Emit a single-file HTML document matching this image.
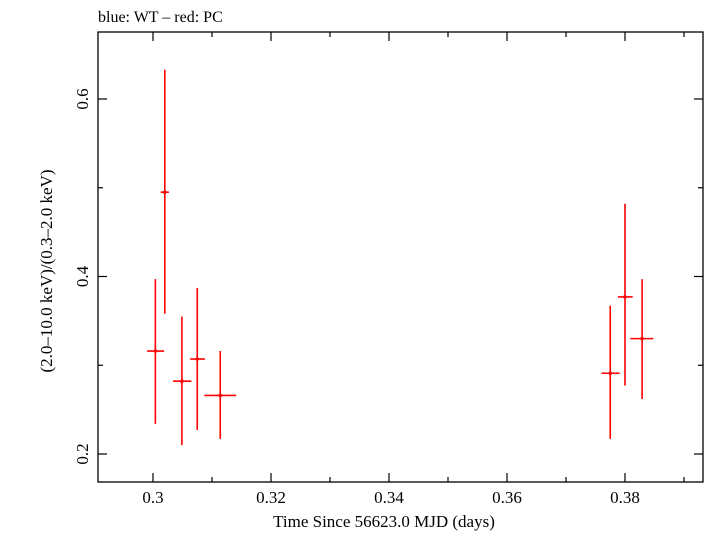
<!DOCTYPE html>
<html><head><meta charset="utf-8"><style>body{margin:0;background:#fff}</style></head>
<body>
<svg width="705" height="532" xmlns="http://www.w3.org/2000/svg" font-family="Liberation Serif, serif">
<text x="98" y="22" font-size="16">blue: WT – red: PC</text>
<rect x="98" y="32" width="605" height="450" fill="none" stroke="#000" stroke-width="1.3"/>
<g id="axes"></g>
<g id="marks"></g>
<text x="384" y="527" font-size="17" text-anchor="middle">Time Since 56623.0 MJD (days)</text>
<text transform="translate(52,271) rotate(-90)" font-size="17" text-anchor="middle">(2.0–10.0 keV)/(0.3–2.0 keV)</text>
<script>
const times=[0.3004,0.3020,0.3049,0.3075,0.3114,0.3775,0.3800,0.3829];
const timeErrLo=[0.0014,0.0007,0.0015,0.0012,0.0027,0.0015,0.0012,0.0020];
const timeErrHi=[0.0015,0.0007,0.0016,0.0013,0.0027,0.0016,0.0013,0.0019];
const ratios=[0.316,0.495,0.282,0.307,0.266,0.291,0.377,0.330];
const ratioLo=[0.234,0.358,0.210,0.227,0.217,0.217,0.277,0.262];
const ratioHi=[0.397,0.633,0.355,0.387,0.316,0.367,0.482,0.397];
const xTicks=[0.3,0.32,0.34,0.36,0.38];
const xMinor=[0.29,0.31,0.33,0.35,0.37,0.39];
const yTicks=[0.2,0.4,0.6];
const yMinor=[0.3,0.5];
const X=v=>153+(v-0.3)*5900;
const Y=v=>454-(v-0.2)*887.5;
const B=482;
const NS='http://www.w3.org/2000/svg';
function mk(tag,attrs,parent){const e=document.createElementNS(NS,tag);for(const k in attrs)e.setAttribute(k,attrs[k]);parent.appendChild(e);return e;}
const ax=document.getElementById('axes'),mg=document.getElementById('marks');
xTicks.forEach(t=>{const x=X(t);
 let l=mk('line',{x1:x,x2:x,y1:B,y2:B-9,stroke:'#000','stroke-width':1.2},ax);
 
 
 l=mk('line',{x1:x,x2:x,y1:32,y2:41,stroke:'#000','stroke-width':1.2},ax);
 
 
 const tx=mk('text',{x:x,y:503,'font-size':17,'text-anchor':'middle'},ax);tx.textContent=String(t);
 
 });
xMinor.forEach(t=>{const x=X(t);if(x<98||x>703)return;
 let l=mk('line',{x1:x,x2:x,y1:B,y2:B-5,stroke:'#000','stroke-width':1.2},ax);
 
 
 l=mk('line',{x1:x,x2:x,y1:32,y2:37,stroke:'#000','stroke-width':1.2},ax);
 
 });
yTicks.forEach(t=>{const y=Y(t);
 let l=mk('line',{x1:98,x2:107,y1:y,y2:y,stroke:'#000','stroke-width':1.2},ax);
 
 
 l=mk('line',{x1:694,x2:703,y1:y,y2:y,stroke:'#000','stroke-width':1.2},ax);
 
 
 const tx=mk('text',{transform:`translate(88,${y}) rotate(-90)`,'font-size':17,'text-anchor':'middle'},ax);tx.textContent=String(t);
 
 });
yMinor.forEach(t=>{const y=Y(t);
 let l=mk('line',{x1:98,x2:103,y1:y,y2:y,stroke:'#000','stroke-width':1.2},ax);
 
 
 l=mk('line',{x1:698,x2:703,y1:y,y2:y,stroke:'#000','stroke-width':1.2},ax);
 
 });
times.forEach((t,i)=>{
 const g=mk('g',{stroke:'#f00','stroke-width':1.6},mg);
 
 
 mk('line',{x1:X(t),x2:X(t),y1:Y(ratioLo[i]),y2:Y(ratioHi[i])},g);
 mk('line',{x1:X(t-timeErrLo[i]),x2:X(t+timeErrHi[i]),y1:Y(ratios[i]),y2:Y(ratios[i])},g);
 mk('circle',{cx:X(t),cy:Y(ratios[i]),r:1.8,fill:'#f00',stroke:'none'},g);
});
</script>
</svg>
</body></html>
